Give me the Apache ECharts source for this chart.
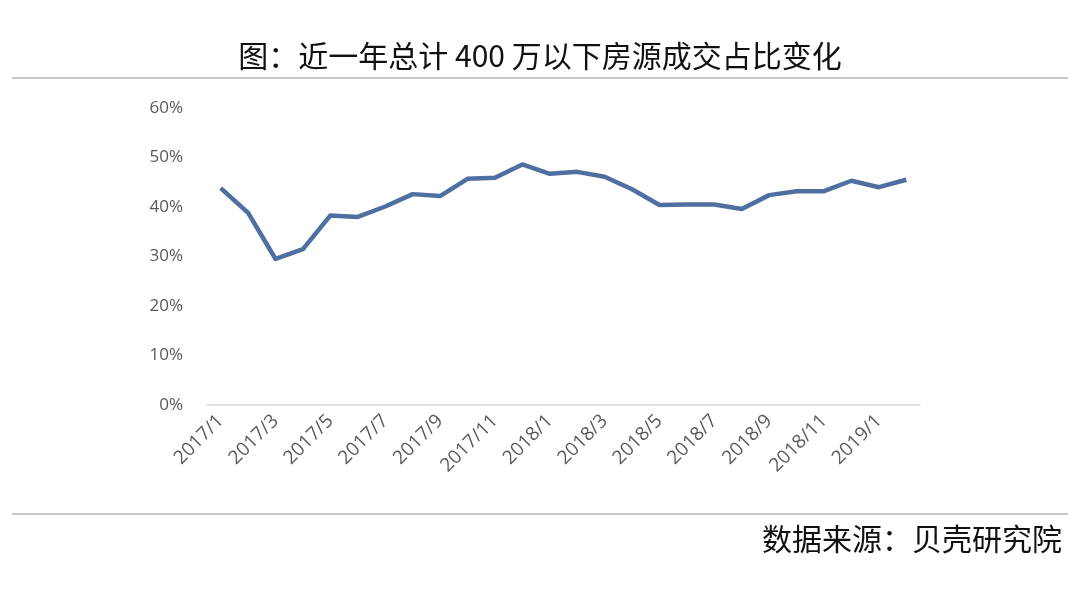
<!DOCTYPE html>
<html>
<head>
<meta charset="utf-8">
<script src="https://cdn.jsdelivr.net/npm/echarts@6/dist/echarts.min.js"></script>
<style>html,body{margin:0;padding:0;background:#fff;}#c{width:1080px;height:593px;}</style>
</head>
<body>
<div id="c"></div>
<script>
const categories = ['2017/1','2017/2','2017/3','2017/4','2017/5','2017/6','2017/7','2017/8','2017/9','2017/10','2017/11','2017/12',
  '2018/1','2018/2','2018/3','2018/4','2018/5','2018/6','2018/7','2018/8','2018/9','2018/10','2018/11','2018/12','2019/1','2019/2'];
const shareValues = [43.8, 38.8, 29.5, 31.5, 38.3, 38.0, 40.1, 42.6, 42.2, 45.7, 45.9, 48.6,
  46.7, 47.1, 46.1, 43.6, 40.4, 40.5, 40.5, 39.6, 42.4, 43.2, 43.2, 45.3, 44.0, 45.5];
const yTicks = [0, 10, 20, 30, 40, 50, 60];
const titleText = '图：近一年总计 400 万以下房源成交占比变化';
const sourceText = '数据来源：贝壳研究院';

const chart = echarts.init(document.getElementById('c'));
chart.setOption({
  backgroundColor: '#fff',
  animation: false,
  grid: { left: 207, right: 160, top: 108, bottom: 188 },
  graphic: [
    { type: 'rect', shape: { x: 12, y: 77, width: 1056, height: 2 }, style: { fill: '#c8c8c8' } },
    { type: 'rect', shape: { x: 12, y: 513, width: 1056, height: 2 }, style: { fill: '#c8c8c8' } },
    { type: 'text', left: 'center', top: 41, style: { text: titleText, font: '30px "Noto Sans CJK SC"', fill: '#111' } },
    { type: 'text', right: 18, top: 524, style: { text: sourceText, font: '30px "Noto Sans CJK SC"', fill: '#111' } }
  ],
  xAxis: {
    type: 'category',
    data: categories,
    boundaryGap: true,
    axisLine: { lineStyle: { color: '#d9d9d9', width: 1.5 } },
    axisTick: { show: false },
    axisLabel: { interval: 1, rotate: 45, color: '#595959', fontSize: 19, fontFamily: 'Open Sans', margin: 13 }
  },
  yAxis: {
    type: 'value',
    min: 0, max: 60, interval: 10,
    axisLine: { show: false },
    axisTick: { show: false },
    splitLine: { show: false },
    axisLabel: { color: '#595959', fontSize: 17, fontFamily: 'Open Sans', margin: 24, formatter: v => v + '%' }
  },
  series: [{
    type: 'line',
    data: shareValues,
    symbol: 'none',
    lineStyle: { color: '#4F6FA0', width: 4.5, join: 'round' }
  }]
});
</script>
</body>
</html>
